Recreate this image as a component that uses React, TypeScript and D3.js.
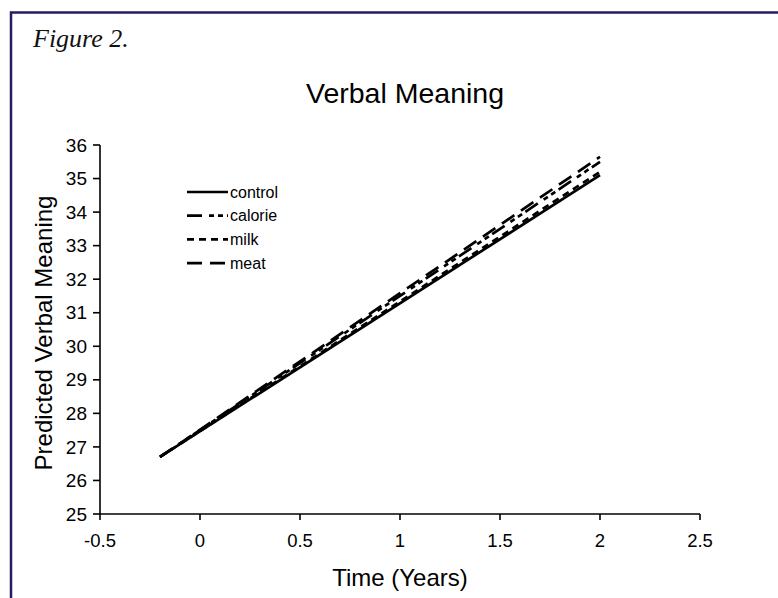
import * as d3 from "d3";

// Values (linear predicted trajectories)
const timePoints = [-0.2, 2];
const controlValues = [26.7, 35.1];
const calorieValues = [26.7, 35.5];
const milkValues = [26.7, 35.2];
const meatValues = [26.7, 35.65];

const seriesNames = ["control", "calorie", "milk", "meat"];
const seriesDash = ["", "15,7,5,4,5,4", "7,5", "15,8"];
const seriesValues = [controlValues, calorieValues, milkValues, meatValues];

const xTicks = [-0.5, 0, 0.5, 1, 1.5, 2, 2.5];
const yTicks = [25, 26, 27, 28, 29, 30, 31, 32, 33, 34, 35, 36];

const W = 778;
const H = 598;
const plot = { left: 100, right: 700, top: 145, bottom: 514 };
const font = "'Liberation Sans', Arial, sans-serif";

export default function App() {
  const x = d3.scaleLinear().domain([-0.5, 2.5]).range([plot.left, plot.right]);
  const y = d3.scaleLinear().domain([25, 36]).range([plot.bottom, plot.top]);

  const line = d3
    .line<number>()
    .x((_, i) => x(timePoints[i]))
    .y((d) => y(d));

  return (
    <div style={{ position: "absolute", left: 0, top: 0 }}>
      <svg width={W} height={H} style={{ display: "block", background: "#fff" }}>
        {/* figure frame */}
        <path d={`M11,${H + 5} V12.5 H${W + 5}`} fill="none" stroke="#2b1a63" strokeWidth={2.5} />
        <text x={33} y={47} fontFamily="'Liberation Serif', 'Times New Roman', serif" fontStyle="italic" fontSize={26} fill="#111">
          Figure 2.
        </text>

        <text x={405} y={103} textAnchor="middle" fontFamily={font} fontSize={28.5}>
          Verbal Meaning
        </text>

        {/* axes */}
        <line x1={plot.left} x2={plot.left} y1={plot.top} y2={plot.bottom} stroke="#000" strokeWidth={1.6} />
        <line x1={plot.left} x2={plot.right} y1={plot.bottom} y2={plot.bottom} stroke="#000" strokeWidth={1.6} />
        {yTicks.map((t) => (
          <g key={`y${t}`}>
            <line x1={plot.left - 7} x2={plot.left} y1={y(t)} y2={y(t)} stroke="#000" strokeWidth={1.6} />
            <text x={plot.left - 13} y={y(t)} dy="0.35em" textAnchor="end" fontFamily={font} fontSize={19}>
              {t}
            </text>
          </g>
        ))}
        {xTicks.map((t) => (
          <g key={`x${t}`}>
            <line x1={x(t)} x2={x(t)} y1={plot.bottom} y2={plot.bottom + 6} stroke="#000" strokeWidth={1.6} />
            <text x={x(t)} y={plot.bottom + 27} dy="0.35em" textAnchor="middle" fontFamily={font} fontSize={18.5}>
              {t}
            </text>
          </g>
        ))}

        <text x={400} y={586} textAnchor="middle" fontFamily={font} fontSize={24}>
          Time (Years)
        </text>
        <text
          transform={`translate(52,333) rotate(-90)`}
          textAnchor="middle"
          fontFamily={font}
          fontSize={24}
        >
          Predicted Verbal Meaning
        </text>

        {/* series */}
        {seriesValues.map((vals, i) => (
          <path
            key={seriesNames[i]}
            d={line(vals) ?? ""}
            fill="none"
            stroke="#000"
            strokeWidth={2.7}
            strokeDasharray={seriesDash[i] || undefined}
          />
        ))}

        {/* legend */}
        {seriesNames.map((name, i) => {
          const ly = 192 + i * 23.7;
          return (
            <g key={`lg${name}`}>
              <line x1={187} x2={228} y1={ly} y2={ly} stroke="#000" strokeWidth={2.7} strokeDasharray={seriesDash[i] || undefined} />
              <text x={230} y={ly} dy="0.35em" fontFamily={font} fontSize={16}>
                {name}
              </text>
            </g>
          );
        })}
      </svg>
    </div>
  );
}
